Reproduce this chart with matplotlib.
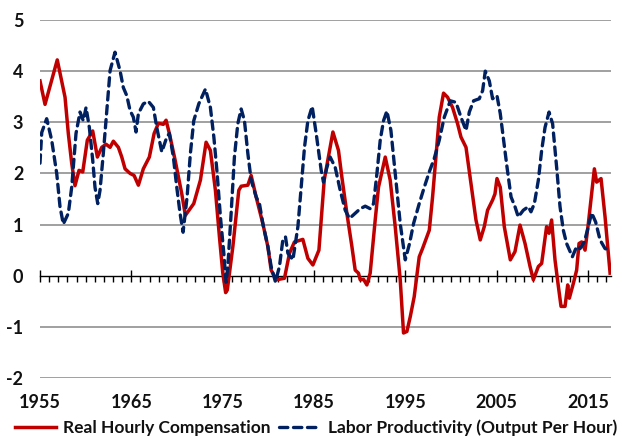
import matplotlib
matplotlib.use("Agg")
import matplotlib.pyplot as plt
from matplotlib.lines import Line2D
import matplotlib.transforms as mtransforms

plt.rcParams['font.family'] = ['Lato', 'DejaVu Sans']

# Real Hourly Compensation (year, % change)
comp_years = [1955.00, 1955.55, 1956.89, 1957.74, 1958.10, 1958.47, 1958.83, 1959.27, 1959.68, 1960.18,
              1960.77, 1961.28, 1961.76, 1962.23, 1962.67, 1963.03, 1963.58, 1963.95, 1964.31, 1964.86,
              1965.30, 1965.77, 1966.31, 1966.97, 1967.49, 1967.96, 1968.50, 1968.80, 1969.16, 1969.79,
              1970.52, 1970.91, 1971.83, 1972.56, 1973.18, 1973.65, 1974.20, 1974.64, 1975.01, 1975.32,
              1975.50, 1976.11, 1976.76, 1977.02, 1977.75, 1978.11, 1978.66, 1979.39, 1979.94, 1980.30,
              1980.85, 1981.76, 1982.31, 1982.85, 1983.77, 1984.32, 1984.87, 1985.53, 1986.11, 1987.06,
              1987.67, 1988.04, 1988.59, 1989.14, 1989.50, 1989.86, 1990.05, 1990.41, 1990.78, 1991.14,
              1991.69, 1992.05, 1992.79, 1993.33, 1993.88, 1994.43, 1994.79, 1995.16, 1995.53, 1995.96,
              1996.51, 1996.87, 1997.61, 1997.97, 1998.34, 1998.70, 1999.17, 1999.61, 2000.16, 2000.71,
              2001.08, 2001.63, 2002.17, 2002.72, 2003.19, 2003.63, 2003.99, 2004.54, 2004.80, 2005.02,
              2005.38, 2005.82, 2006.48, 2006.99, 2007.54, 2008.09, 2008.64, 2009.00, 2009.55, 2009.91,
              2010.45, 2010.72, 2011.00, 2011.37, 2011.74, 2012.03, 2012.47, 2012.76, 2012.94, 2013.38,
              2013.74, 2014.00, 2014.29, 2014.66, 2015.02, 2015.38, 2015.68, 2015.93, 2016.41, 2016.85,
              2017.40]
comp_values = [3.81, 3.35, 4.22, 3.49, 2.78, 2.20, 1.76, 2.06, 2.03, 2.65,
               2.83, 2.32, 2.51, 2.57, 2.51, 2.63, 2.51, 2.32, 2.09, 2.00,
               1.96, 1.77, 2.09, 2.32, 2.78, 2.98, 2.96, 3.04, 2.78, 2.26,
               1.60, 1.18, 1.41, 1.87, 2.61, 2.45, 1.67, 0.76, 0.05, -0.33,
               -0.28, 0.57, 1.67, 1.75, 1.77, 1.96, 1.54, 1.02, 0.57, 0.11,
               -0.08, -0.05, 0.44, 0.66, 0.71, 0.34, 0.21, 0.50, 1.87, 2.81,
               2.45, 1.93, 1.22, 0.57, 0.11, 0.05, -0.08, -0.07, -0.18, 0.05,
               1.09, 1.73, 2.32, 1.87, 0.96, -0.08, -1.12, -1.09, -0.80, -0.41,
               0.37, 0.53, 0.89, 1.54, 2.32, 3.10, 3.57, 3.49, 3.29, 2.97,
               2.71, 2.51, 1.80, 1.09, 0.70, 0.96, 1.28, 1.48, 1.60, 1.90,
               1.73, 0.96, 0.31, 0.47, 0.99, 0.63, 0.18, -0.08, 0.18, 0.24,
               0.96, 0.83, 1.09, 0.31, -0.21, -0.60, -0.60, -0.18, -0.44, -0.15,
               0.11, 0.63, 0.66, 0.50, 1.02, 1.60, 2.09, 1.83, 1.90, 1.15,
               0.05]

# Labor Productivity (Output Per Hour)
prod_years = [1955.00, 1955.19, 1955.73, 1956.28, 1956.83, 1957.19, 1957.55, 1958.10, 1958.47, 1958.94,
              1959.38, 1959.74, 1960.04, 1960.40, 1960.77, 1961.02, 1961.32, 1961.57, 1961.93, 1962.31,
              1962.67, 1963.21, 1963.76, 1964.12, 1964.50, 1964.86, 1965.22, 1965.51, 1965.77, 1966.31,
              1966.86, 1967.41, 1967.78, 1968.33, 1968.88, 1969.16, 1969.60, 1969.97, 1970.33, 1970.66,
              1971.10, 1971.46, 1971.83, 1972.38, 1973.11, 1973.65, 1974.03, 1974.39, 1974.75, 1975.12,
              1975.37, 1975.56, 1975.92, 1976.28, 1976.65, 1977.02, 1977.38, 1977.75, 1978.11, 1978.66,
              1979.02, 1979.39, 1979.94, 1980.30, 1980.77, 1981.21, 1981.58, 1981.87, 1982.13, 1982.68,
              1983.23, 1983.59, 1983.95, 1984.32, 1984.79, 1985.23, 1985.78, 1986.03, 1986.40, 1986.76,
              1987.31, 1987.86, 1988.41, 1988.88, 1989.50, 1990.05, 1990.60, 1991.14, 1991.51, 1991.88,
              1992.24, 1992.60, 1992.97, 1993.41, 1993.88, 1994.43, 1994.98, 1995.45, 1995.89, 1996.51,
              1997.06, 1997.61, 1998.15, 1998.70, 1999.25, 1999.91, 2000.53, 2001.08, 2001.63, 2001.99,
              2002.46, 2003.08, 2003.45, 2003.74, 2004.18, 2004.54, 2005.02, 2005.38, 2005.75, 2006.12,
              2006.56, 2006.99, 2007.35, 2007.90, 2008.45, 2008.74, 2009.11, 2009.55, 2009.91, 2010.28,
              2010.72, 2011.11, 2011.55, 2011.92, 2012.28, 2012.64, 2013.27, 2013.74, 2014.11, 2014.58,
              2015.02, 2015.38, 2015.82, 2016.30, 2016.85, 2017.40]
prod_values = [2.20, 2.80, 3.07, 2.65, 2.00, 1.35, 1.01, 1.22, 1.73, 2.78,
               3.20, 3.03, 3.29, 2.90, 2.26, 1.73, 1.41, 1.67, 2.39, 3.23,
               4.01, 4.37, 4.01, 3.68, 3.52, 3.23, 3.10, 2.81, 3.17, 3.36,
               3.41, 3.29, 2.90, 2.42, 2.71, 2.78, 2.32, 1.73, 1.22, 0.85,
               1.54, 2.39, 3.03, 3.36, 3.65, 3.29, 2.71, 2.00, 1.15, 0.44,
               -0.13, 0.18, 1.22, 2.32, 2.97, 3.26, 3.03, 2.39, 1.87, 1.54,
               1.41, 1.02, 0.57, 0.18, -0.12, 0.18, 0.70, 0.76, 0.44, 0.31,
               0.96, 1.73, 2.51, 3.03, 3.31, 2.78, 2.06, 1.83, 2.12, 2.32,
               2.12, 1.67, 1.28, 1.12, 1.22, 1.31, 1.36, 1.31, 1.41, 2.00,
               2.65, 3.03, 3.22, 2.84, 2.00, 1.02, 0.31, 0.63, 1.02, 1.41,
               1.73, 2.03, 2.29, 2.65, 3.10, 3.42, 3.39, 3.10, 2.84, 3.20,
               3.42, 3.46, 3.62, 4.00, 3.81, 3.46, 3.52, 3.17, 2.65, 2.12,
               1.54, 1.35, 1.15, 1.28, 1.35, 1.25, 1.41, 1.87, 2.45, 2.90,
               3.20, 2.97, 2.12, 1.35, 0.89, 0.63, 0.37, 0.57, 0.53, 0.66,
               0.96, 1.23, 1.05, 0.70, 0.53, 0.50]

x_labels = [1955, 1965, 1975, 1985, 1995, 2005, 2015]
y_ticks = [-2, -1, 0, 1, 2, 3, 4, 5]
series_names = ["Real Hourly Compensation", "Labor Productivity (Output Per Hour)"]

RED = "#C00000"
NAVY = "#002060"
TXT = "#111111"

fig = plt.figure(figsize=(6.22, 4.38), dpi=100)
ax = fig.add_axes([40/622, 1-378/438, (611-40)/622, (378-20)/438])

ax.set_xlim(1955, 2017.5)
ax.set_ylim(-2, 5)

for yv in y_ticks:
    if yv != 0:
        ax.axhline(yv, color="#868686", lw=1.1, zorder=1)

for s in ['top', 'right', 'left']:
    ax.spines[s].set_visible(False)
ax.spines['bottom'].set_position(('data', 0))
ax.spines['bottom'].set_color('black')
ax.spines['bottom'].set_linewidth(1.0)
ax.spines['bottom'].set_zorder(2)

ax.set_xticks(x_labels)
ax.set_xticks([y for y in range(1956, 2018) if y not in x_labels], minor=True)
ax.tick_params(axis='x', which='major', direction='inout', length=9, width=1.0, labelbottom=False)
ax.tick_params(axis='x', which='minor', direction='out', length=4, width=1.0)

ax.set_yticks(y_ticks)
ax.set_yticklabels([str(v) for v in y_ticks])
ax.tick_params(axis='y', length=0, pad=12, labelsize=13, labelcolor=TXT)
for lab in ax.get_yticklabels():
    lab.set_fontweight('bold')

trans = mtransforms.blended_transform_factory(ax.transData, ax.transAxes)
for yr in x_labels:
    ax.text(yr, -24/358, str(yr), transform=trans, ha='center', va='center',
            fontsize=13, fontweight='bold', color=TXT)

ax.plot(comp_years, comp_values, color=RED, lw=2.5, solid_joinstyle='round', zorder=3)
ax.plot(prod_years, prod_values, color=NAVY, lw=2.4, linestyle=(0, (2.5, 1.7)),
        dash_capstyle='round', zorder=4)

handles = [Line2D([], [], color=RED, lw=2.5),
           Line2D([], [], color=NAVY, lw=2.4, linestyle=(0, (2.5, 1.7)), dash_capstyle='round')]
leg = fig.legend(handles, series_names, loc='center', bbox_to_anchor=(316/622, 1-428/438),
                 ncol=2, frameon=False, handlelength=2.4, handletextpad=0.4, columnspacing=0.5,
                 prop={'size': 12.5, 'weight': 'bold'}, borderaxespad=0, borderpad=0)
for t in leg.get_texts():
    t.set_color(TXT)

fig.savefig("out.png", dpi=100)
